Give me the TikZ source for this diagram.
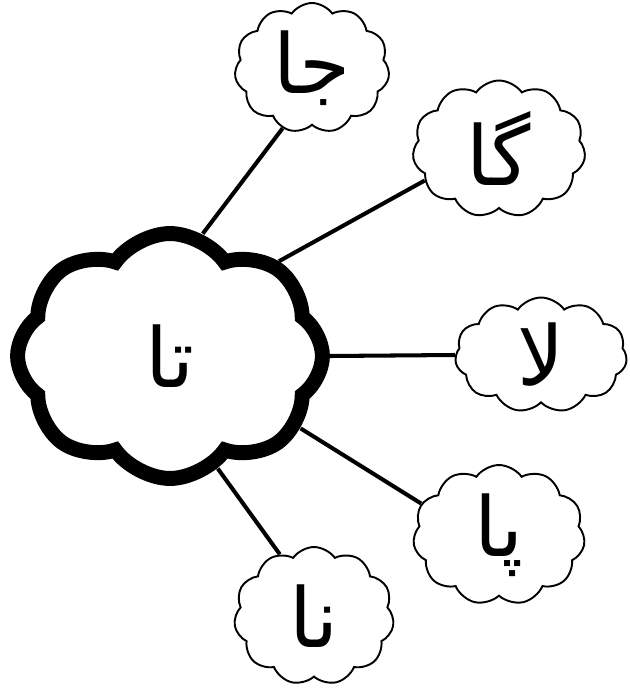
\documentclass[tikz,border=0pt]{standalone}
\usepackage{fontspec}
\newfontfamily\arabicfont[Script=Arabic]{DejaVu Sans}
\TeXXeTstate=1
\usetikzlibrary{shapes.symbols}

\begin{document}
\begin{tikzpicture}[x=0.02cm, y=-0.02cm,
    bigcloud/.style={cloud, cloud puffs=8, cloud puff arc=110, cloud ignores aspect,
      draw, line width=8.5pt, inner sep=0pt, minimum width=6.1cm, minimum height=4.9cm},
    smallcloud/.style={cloud, cloud puffs=11, cloud puff arc=110, cloud ignores aspect,
      draw, line width=1.1pt, inner sep=0pt},
    harf/.style={font=\arabicfont\fontsize{47}{47}\selectfont},
    link/.style={line width=2.3pt}]
    \useasboundingbox (0,0) rectangle (629,696);

    % middle cloud
    \node[bigcloud, harf] (ta) at (170,356) {\beginR تا\endR};

    % outer clouds
    \node[smallcloud, harf, minimum width=3.1cm, minimum height=2.6cm] (ja) at (312,68) {\beginR جا\endR};
    \node[smallcloud, harf, minimum width=3.46cm, minimum height=2.74cm] (gaa) at (499,149) {\beginR گا\endR};
    \node[smallcloud, harf, minimum width=3.44cm, minimum height=2.3cm] (laa) at (541,355) {\beginR لا\endR};
    \node[smallcloud, harf, minimum width=3.44cm, minimum height=2.8cm] (paa) at (499,535) {\beginR پا\endR};
    \node[smallcloud, harf, minimum width=3.2cm, minimum height=2.76cm] (naa) at (314,616) {\beginR نا\endR};

    % connectors
    \draw[link] (ta.75) -- (ja.244);
    \draw[link] (ta.41) -- (gaa.203);
    \draw[link] (ta.0) -- (laa.180);
    \draw[link] (ta.-29) -- (paa.158);
    \draw[link] (ta.-67) -- (naa.119);
\end{tikzpicture}
\end{document}
